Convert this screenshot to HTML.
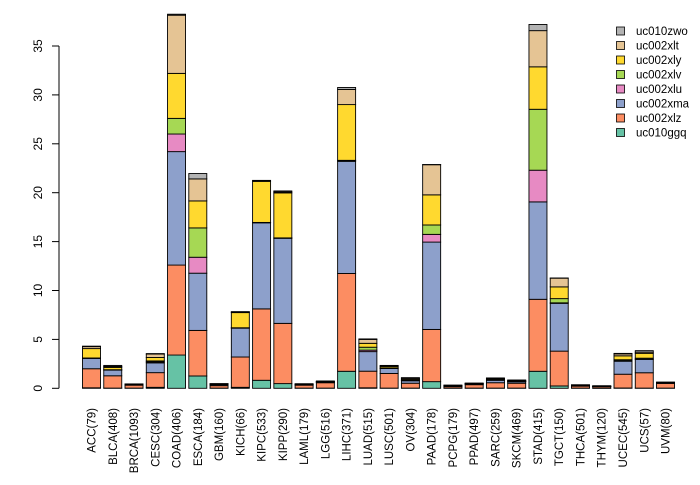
<!DOCTYPE html>
<html><head><meta charset="utf-8"><style>
body{margin:0;background:#fff;}
svg text{font-family:"Liberation Sans",Arial,sans-serif;fill:#000;}
</style></head><body>
<svg id="chart" width="700" height="480" viewBox="0 0 700 480" xmlns="http://www.w3.org/2000/svg">
<g id="axis"></g>
<g id="bars"></g>
<g id="xlabels"></g>
<g id="legend"></g>
</svg>
<script>
const categories=["ACC(79)","BLCA(408)","BRCA(1093)","CESC(304)","COAD(406)","ESCA(184)","GBM(160)","KICH(66)","KIPC(533)","KIPP(290)","LAML(179)","LGG(516)","LIHC(371)","LUAD(515)","LUSC(501)","OV(304)","PAAD(178)","PCPG(179)","PPAD(497)","SARC(259)","SKCM(469)","STAD(415)","TGCT(150)","THCA(501)","THYM(120)","UCEC(545)","UCS(57)","UVM(80)"];
const seriesNames=["uc010ggq","uc002xlz","uc002xma","uc002xlu","uc002xlv","uc002xly","uc002xlt","uc010zwo"];
const seriesColors=["#66c2a5","#fc8d62","#8da0cb","#e78ac3","#a6d854","#ffd92f","#e5c494","#b3b3b3"];
const uc010ggq=[0.05,0.02,0.02,0.1,3.4,1.26,0.02,0.1,0.82,0.48,0.02,0.02,1.74,0.05,0.02,0.02,0.68,0.02,0.02,0.02,0.02,1.74,0.24,0.02,0.01,0.03,0.02,0.02];
const uc002xlz=[1.95,1.26,0.3,1.5,9.2,4.66,0.25,3.1,7.3,6.16,0.3,0.55,10.0,1.7,1.5,0.5,5.34,0.15,0.35,0.55,0.5,7.36,3.56,0.2,0.15,1.41,1.57,0.48];
const uc002xma=[1.06,0.58,0.02,1.0,11.6,5.85,0.1,2.95,8.8,8.7,0.02,0.05,11.47,2.0,0.5,0.25,8.93,0.05,0.05,0.25,0.15,9.96,4.89,0.05,0.01,1.33,1.37,0.05];
const uc002xlu=[0.02,0.02,0.01,0.1,1.8,1.63,0.01,0.02,0.02,0.02,0.01,0.01,0.05,0.15,0.02,0.05,0.79,0.01,0.01,0.02,0.02,3.24,0.05,0.01,0.01,0.05,0.02,0.01];
const uc002xlv=[0.02,0.02,0.01,0.1,1.6,3.0,0.01,0.02,0.02,0.02,0.01,0.01,0.05,0.3,0.05,0.02,0.96,0.01,0.01,0.02,0.02,6.23,0.43,0.01,0.01,0.1,0.1,0.01];
const uc002xly=[0.96,0.24,0.05,0.35,4.6,2.76,0.05,1.55,4.2,4.6,0.05,0.05,5.7,0.4,0.15,0.1,3.08,0.05,0.05,0.1,0.05,4.34,1.2,0.05,0.01,0.4,0.5,0.01];
const uc002xlt=[0.2,0.1,0.02,0.35,5.95,2.25,0.02,0.05,0.05,0.1,0.01,0.01,1.55,0.4,0.05,0.1,3.08,0.01,0.03,0.05,0.05,3.7,0.89,0.01,0.05,0.2,0.12,0.01];
const uc010zwo=[0.05,0.1,0.02,0.05,0.1,0.55,0.02,0.05,0.05,0.1,0.05,0.05,0.2,0.05,0.05,0.05,0.02,0.03,0.01,0.05,0.04,0.63,0.02,0.01,0.01,0.05,0.15,0.05];
const yTicks=[0,5,10,15,20,25,30,35];

const series=[uc010ggq,uc002xlz,uc002xma,uc002xlu,uc002xlv,uc002xly,uc002xlt,uc010zwo];
const NS="http://www.w3.org/2000/svg";
const y0=388.3,yTop=46,yMaxVal=35;
function yScale(v){return y0-(v/yMaxVal)*(y0-yTop);}
const x0=91.5,pitch=21.26,bw=18;
function xScale(i){return x0+i*pitch;}
function mk(tag,attrs,parent){const e=document.createElementNS(NS,tag);for(const k in attrs)e.setAttribute(k,attrs[k]);parent.appendChild(e);return e;}

const axis=document.getElementById('axis');
const axLine=mk('line',{x1:59,x2:59,y1:yScale(0),y2:yScale(35),stroke:'#000','stroke-width':1},axis);


yTicks.forEach(t=>{
  const y=yScale(t);
  const tk=mk('line',{x1:52,x2:59,y1:y,y2:y,stroke:'#000','stroke-width':1},axis);
  
  
  const tx=mk('text',{x:0,y:0,'font-size':12,'text-anchor':'middle',transform:`translate(42,${y}) rotate(-90)`},axis);
  
  
  tx.textContent=t;
});

const bars=document.getElementById('bars');
categories.forEach((c,i)=>{
  let cum=0;
  const cx=xScale(i);
  series.forEach((s,k)=>{
    const v=s[i];
    const ya=yScale(cum),yb=yScale(cum+v);
    const r=mk('rect',{x:cx-bw/2,y:yb,width:bw,height:Math.max(ya-yb,0),fill:seriesColors[k],stroke:'#000','stroke-width':0.9},bars);
    
    
    cum+=v;
  });
  const lbl=mk('text',{x:0,y:0,'font-size':11.5,'text-anchor':'end',transform:`translate(${cx+4},408) rotate(-90)`},document.getElementById('xlabels'));
  
  
  lbl.textContent=c;
});

const legend=document.getElementById('legend');
for(let j=0;j<seriesNames.length;j++){
  const k=seriesNames.length-1-j;
  const y=31+j*14.5;
  const g=mk('g',{},legend);
  
  
  mk('rect',{x:616.5,y:y-4,width:8,height:8,fill:seriesColors[k],stroke:'#000','stroke-width':0.8},g);
  const t=mk('text',{x:636,y:y+4,'font-size':11.5},g);
  t.textContent=seriesNames[k];
}
</script>
</body></html>
